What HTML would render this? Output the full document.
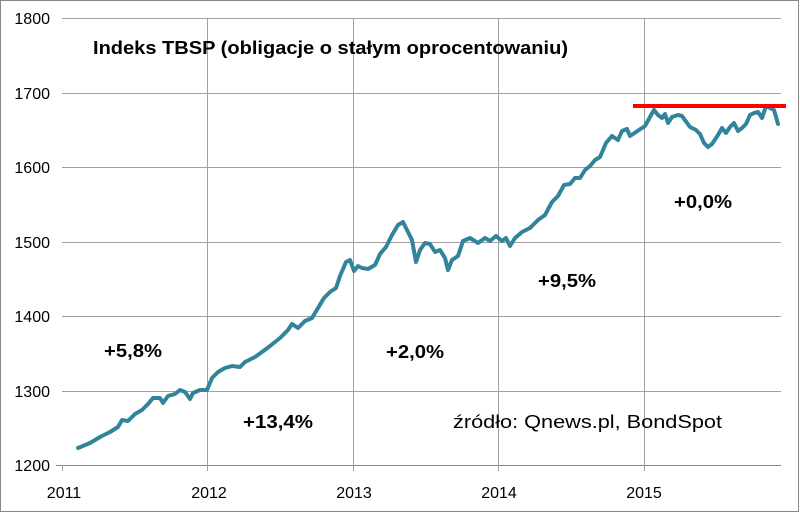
<!DOCTYPE html>
<html><head><meta charset="utf-8"><style>
html,body{margin:0;padding:0;background:#fff}
svg{display:block}
text{font-family:"Liberation Sans",sans-serif;fill:#000}
</style></head><body>
<svg width="800" height="513" viewBox="0 0 800 513">
<rect x="0.5" y="0.5" width="798" height="511" fill="#fff" stroke="#888" stroke-width="1"/>
<g stroke="#a0a0a0" stroke-width="1">
<line x1="62" y1="18.5" x2="781" y2="18.5"/>
<line x1="62" y1="93.5" x2="781" y2="93.5"/>
<line x1="62" y1="167.5" x2="781" y2="167.5"/>
<line x1="62" y1="242.5" x2="781" y2="242.5"/>
<line x1="62" y1="316.5" x2="781" y2="316.5"/>
<line x1="62" y1="391.5" x2="781" y2="391.5"/>
<line x1="56" y1="465.5" x2="781" y2="465.5" stroke="#888"/>
<line x1="62.5" y1="465" x2="62.5" y2="471"/>
<line x1="207.5" y1="18" x2="207.5" y2="471"/>
<line x1="353.5" y1="18" x2="353.5" y2="471"/>
<line x1="498.5" y1="18" x2="498.5" y2="471"/>
<line x1="644.5" y1="18" x2="644.5" y2="471"/>
</g>
<g font-size="16" text-anchor="end">
<text x="50" y="24">1800</text><text x="50" y="99">1700</text><text x="50" y="173">1600</text>
<text x="50" y="248">1500</text><text x="50" y="322">1400</text><text x="50" y="397">1300</text><text x="50" y="471">1200</text>
</g>
<g font-size="16" text-anchor="middle">
<text x="64" y="498">2011</text><text x="209" y="498">2012</text><text x="354" y="498">2013</text>
<text x="499" y="498">2014</text><text x="644" y="498">2015</text>
</g>
<text x="93" y="54" font-size="18" font-weight="bold" textLength="475" lengthAdjust="spacingAndGlyphs">Indeks TBSP (obligacje o stałym oprocentowaniu)</text>
<g font-size="18" font-weight="bold">
<text x="104" y="357" textLength="58" lengthAdjust="spacingAndGlyphs">+5,8%</text>
<text x="243" y="428" textLength="70" lengthAdjust="spacingAndGlyphs">+13,4%</text>
<text x="386" y="358" textLength="58" lengthAdjust="spacingAndGlyphs">+2,0%</text>
<text x="538" y="287" textLength="58" lengthAdjust="spacingAndGlyphs">+9,5%</text>
<text x="674" y="208" textLength="58" lengthAdjust="spacingAndGlyphs">+0,0%</text>
</g>
<text x="453" y="428" font-size="18" textLength="269" lengthAdjust="spacingAndGlyphs">źródło: Qnews.pl, BondSpot</text>
<polyline fill="none" stroke="#31849b" stroke-width="4" stroke-linejoin="round" stroke-linecap="round" points="78,448 90,443 100,437 110,432 118,427 122,420 128,421 135,414 142,410 148,404 153,398 160,398 163,403 168,396 175,394 180,390 185,392 190,399 193,393 200,390 207,390 212,378 218,372 225,368 232,366 240,367 245,362 255,357 262,352 270,346 280,338 288,330 292,324 298,328 305,321 312,318 318,308 324,298 330,292 336,288 340,276 346,262 350,260 354,271 358,266 362,268 368,269 375,265 380,254 386,247 392,235 398,225 403,222 408,232 412,240 416,262 420,250 425,243 430,244 435,252 440,250 445,258 448,270 452,260 458,256 463,241 470,238 478,243 485,238 490,241 496,236 502,241 506,238 510,246 515,238 522,232 530,228 538,220 545,215 552,202 558,196 564,185 570,184 575,178 580,178 585,170 590,166 595,160 600,157 606,143 612,136 618,140 622,131 627,129 630,136 636,132 645,126 650,117 654,110 658,115 662,118 665,114 668,123 672,117 678,115 682,116 690,127 696,130 700,134 704,143 708,147 712,144 718,135 722,128 726,133 730,127 734,123 738,131 742,128 746,124 750,115 754,113 758,112 762,118 766,106 770,108 774,110 778,124"/>
<line x1="633" y1="106" x2="786" y2="106" stroke="#ff0000" stroke-width="4"/>
</svg>
</body></html>
